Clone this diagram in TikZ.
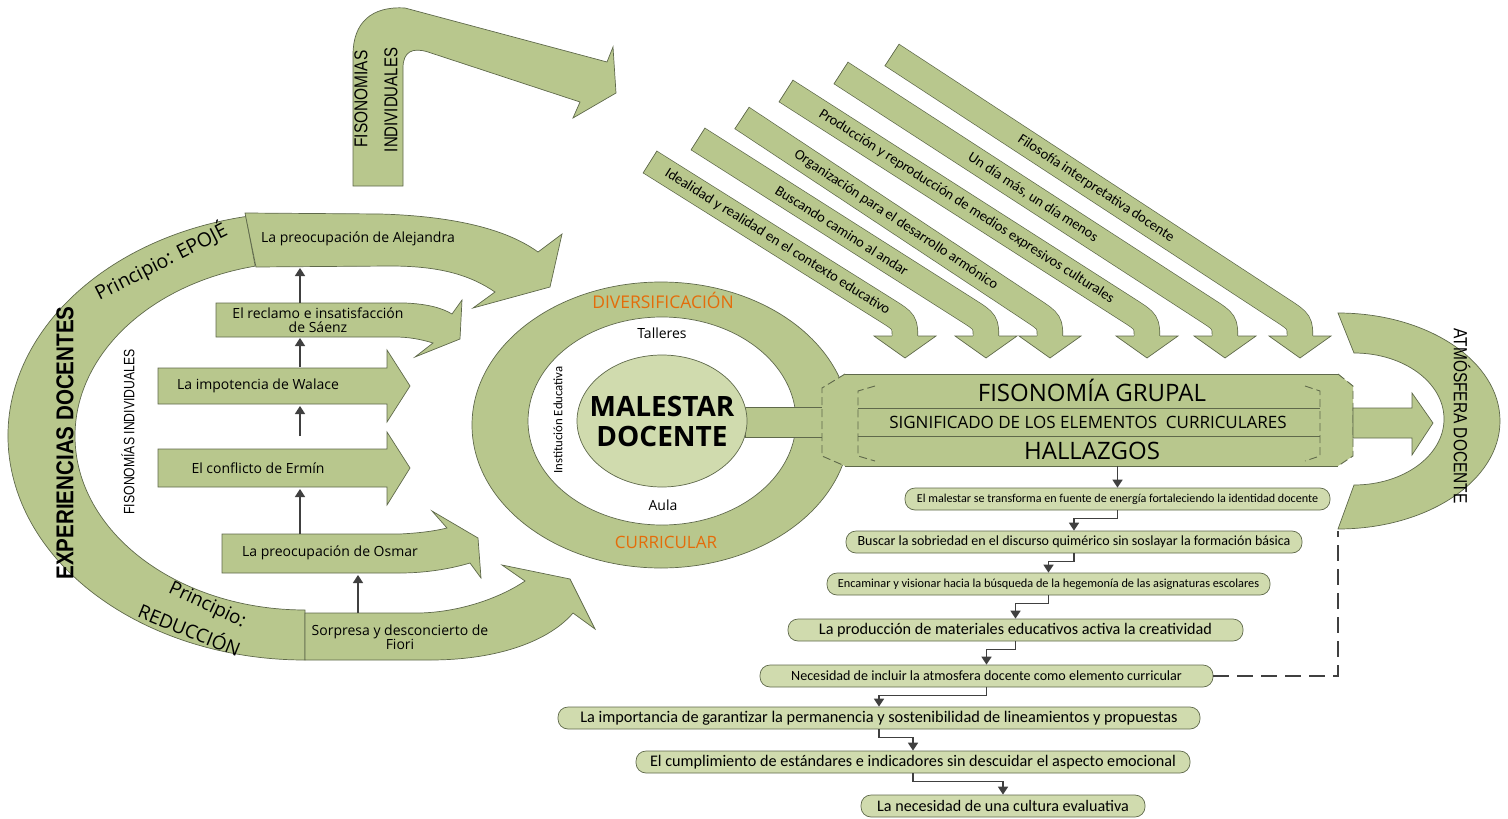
\documentclass[tikz,border=0pt]{standalone}
\usepackage{fontspec}
\setmainfont{Open Sans}
\newfontfamily\calfont{Carlito}
\newfontfamily\arifont{Liberation Sans}
\usetikzlibrary{arrows.meta,calc}
\definecolor{grn}{RGB}{184,199,141}
\definecolor{grnl}{RGB}{208,219,174}
\definecolor{bordc}{RGB}{95,105,75}
\definecolor{darkc}{RGB}{64,64,64}
\definecolor{orng}{RGB}{228,108,10}
\tikzset{
 shp/.style={fill=grn, draw=bordc, line width=0.7pt},
 bt/.style={font=\fontsize{14}{14.5}\selectfont, align=center, inner sep=0pt},
 conn/.style={draw=darkc, line width=1.6pt, -{Triangle[length=8pt,width=10pt]}},
 lbox/.style={draw=bordc, fill=grnl, line width=0.7pt, rounded corners=10pt, minimum height=22pt, inner sep=0pt},
 dtext/.style={font=\calfont\fontsize{14.5}{14.5}\selectfont, sloped, inner sep=0pt},
 dsh/.style={draw=bordc, line width=0.9pt, dash pattern=on 8pt off 4pt},
 lgap/.style={draw=darkc, line width=1.6pt, dash pattern=on 16pt off 8pt},
}
\newcommand\diagarr[4]{%
 \coordinate (#1s) at (#2);
 \coordinate (#1c) at (#3,322);
 \coordinate (#1q) at (#3,340);
 \draw[bordc, line width=0.7pt, double=grn, double distance=25pt] (#1s) -- ($(#1c)!22pt!(#1s)$) .. controls (#1c) .. (#1q);
 \draw[bordc, line width=0.7pt] ($(#1s)!13.2pt!90:(#1c)$) -- ($(#1s)!13.2pt!-90:(#1c)$);
 \fill[grn] (#3-31,336) -- (#3,358) -- (#3+31,336) -- cycle;
 \draw[bordc, line width=0.7pt] (#3-13.2,336) -- (#3-31,336) -- (#3,358) -- (#3+31,336) -- (#3+13.2,336);
 \path (#1s) -- (#1c) node[dtext, midway] (#1txt) {#4};
}
\begin{document}
\begin{tikzpicture}[x=1pt,y=-1pt]
\useasboundingbox (0,0) rectangle (1508,819);

% ---------- left big arc ----------
\path[shp] (305,436) ++(-101.5:297 and 224) arc[start angle=-101.5,end angle=-270,x radius=297,y radius=224]
  -- (305,610) arc[start angle=90,end angle=257.5,x radius=230,y radius=174] -- cycle;
\node[rotate=27, font=\fontsize{19.5}{19.5}\selectfont, inner sep=0pt] (epo) at (161,262) {Principio: EPOJÉ};
\node[rotate=-25, font=\fontsize{19}{19}\selectfont, inner sep=0pt] (pr2) at (207,606) {Principio:};
\node[rotate=-22, font=\fontsize{19}{19}\selectfont, inner sep=0pt] (red) at (190,629) {REDUCCIÓN};
\node[rotate=90, inner sep=0pt] (exp) at (65,443) {\resizebox{273pt}{17pt}{\arifont\bfseries EXPERIENCIAS DOCENTES}};
\node[rotate=90, inner sep=0pt] (fis1) at (128,432) {\resizebox{165pt}{13pt}{\arifont FISONOMÍAS INDIVIDUALES}};

% ---------- left arrows ----------
\path[shp] (245,213) -- (380,214) .. controls (450,216) and (505,228) .. (538,252) -- (562,234) -- (550,287) -- (473,308) -- (495,292) .. controls (470,275) and (440,266) .. (390,266) -- (256,267) -- cycle;
\node[bt] (ale) at (358,239) {La preocupación de Alejandra};
\path[shp] (216,303) -- (405,303) .. controls (428,304) and (442,308) .. (452,314) -- (462,300) -- (460,339) -- (415,357) -- (433,343) .. controls (420,339) and (408,337) .. (395,337) -- (216,337) -- cycle;
\node[bt] (sae) at (318,320) {El reclamo e insatisfacción\\de Sáenz};
\path[shp] (158,368) -- (387,368) -- (387,350) -- (410,386) -- (387,422) -- (387,404) -- (158,404) -- cycle;
\node[bt] (wal) at (258,386) {La impotencia de Walace};
\path[shp] (158,449) -- (387,449) -- (387,432) -- (410,468) -- (387,505) -- (387,487) -- (158,487) -- cycle;
\node[bt] (erm) at (258,468) {El conflicto de Ermín};
\path[shp] (222,534) -- (400,534) .. controls (420,533) and (435,531) .. (447,528) -- (432,511) -- (478,538) -- (481,578) -- (470,563) .. controls (450,569) and (425,573) .. (400,573) -- (222,573) -- cycle;
\node[bt] (osm) at (330,553) {La preocupación de Osmar};
\path[shp] (305,613) -- (420,613) .. controls (460,612) and (500,598) .. (525,581) -- (502,565) -- (570,579) -- (595,629) -- (573,613) .. controls (550,640) and (500,660) .. (430,660) -- (305,660) -- cycle;
\node[bt] (fio) at (400,637) {Sorpresa y desconcierto de\\Fiori};

\coordinate (fio-t) at (358,613); \coordinate (osm-b) at (358,575);
\coordinate (osm-t) at (300,534); \coordinate (erm-b) at (300,489);
\coordinate (erm-t) at (300,436); \coordinate (wal-b) at (300,406);
\coordinate (wal-t) at (300,367); \coordinate (sae-b) at (300,338);
\coordinate (sae-t) at (300,303); \coordinate (ale-b) at (300,268);
\draw[conn] (fio-t) -- (osm-b);
\draw[conn] (osm-t) -- (erm-b);
\draw[conn] (erm-t) -- (wal-b);
\draw[conn] (wal-t) -- (sae-b);
\draw[conn] (sae-t) -- (ale-b);

% ---------- top arrow ----------
\path[shp] (353,186) -- (353,55) .. controls (353,22) and (372,6) .. (405,8) -- (607,62) -- (613,47) -- (616,93) -- (573,118) -- (580,102) -- (428,52) .. controls (412,47) and (403,52) .. (403,68) -- (403,186) -- cycle;
\node[rotate=90, inner sep=0pt] (fi1) at (361,99) {\resizebox{97pt}{13pt}{\arifont FISONOMIAS}};
\node[rotate=90, inner sep=0pt] (fi2) at (391,100) {\resizebox{104pt}{13pt}{\arifont INDIVIDUALES}};

% ---------- ring ----------
\path[shp] (661,425) ellipse[x radius=189, y radius=143];
\path[fill=white, draw=bordc, line width=0.7pt] (662,421) ellipse[x radius=134, y radius=104];
\path[shp] (745,407) rectangle (822,437);
\path[fill=grnl, draw=bordc, line width=0.7pt] (662,421) ellipse[x radius=85, y radius=66];
\node[font=\fontsize{17.5}{18}\selectfont, text=orng] (div) at (663,300) {DIVERSIFICACIÓN};
\node[font=\fontsize{17}{18}\selectfont, text=orng] (cur) at (666,542) {CURRICULAR};
\node[font=\fontsize{14}{14}\selectfont] (tal) at (662,333) {Talleres};
\node[font=\fontsize{14}{14}\selectfont] (aul) at (663,505) {Aula};
\node[rotate=90, font=\calfont\fontsize{12.8}{13}\selectfont] (ins) at (558,420) {Institución Educativa};
\node[font=\bfseries\fontsize{28}{30}\selectfont, align=center] (mal) at (662,421) {MALESTAR\\DOCENTE};

% ---------- fisonomia grupal ----------
\fill[grn] (845,374) -- (1338,374) -- (1353,386) -- (1353,456) -- (1338,466) -- (845,466) -- (822,456) -- (822,388) -- cycle;
\draw[bordc, line width=0.7pt] (845,374) -- (1338,374) (845,466) -- (1338,466);
\draw[dsh] (845,374) -- (822,388) -- (822,456) -- (845,466);
\draw[dsh] (875,386) -- (858,391) -- (858,456) -- (875,461);
\draw[dsh] (1305,386) -- (1320,391) -- (1320,456) -- (1305,461);
\draw[dsh] (1338,374) -- (1353,386) -- (1353,456) -- (1338,466);
\draw[bordc, line width=0.7pt] (858,408) -- (1320,408) (858,436) -- (1320,436);
\node[font=\fontsize{24}{24}\selectfont] (fg) at (1092,390) {FISONOMÍA GRUPAL};
\node[font=\fontsize{17}{17}\selectfont] (sig) at (1088,422) {SIGNIFICADO DE LOS ELEMENTOS\ \ CURRICULARES};
\node[font=\fontsize{24}{24}\selectfont] (hal) at (1092,451) {HALLAZGOS};

% ---------- atmosfera ----------
\path[shp] (1353,408) -- (1412,408) -- (1412,393) -- (1433,423) -- (1412,455) -- (1412,438) -- (1353,438) -- cycle;
\path[shp] (1338,313) arc[start angle=-90,end angle=90,x radius=162,y radius=108] -- (1354,485) arc[start angle=90,end angle=-90,x radius=90,y radius=66] -- cycle;
\node[rotate=-90, inner sep=0pt] (atm) at (1462,416) {\resizebox{175pt}{16.5pt}{\arifont ATMÓSFERA DOCENTE}};

% ---------- diagonal arrows ----------
\diagarr{da}{650,162}{905}{Idealidad y realidad en el contexto educativo}
\diagarr{db}{698,139}{986}{Buscando camino al andar}
\diagarr{dc}{742,118}{1050}{Organización para el desarrollo armónico}
\diagarr{dd}{786,91}{1147}{Producción y reproducción de medios expresivos culturales}
\diagarr{de}{841,73}{1225}{Un día más, un día menos}
\diagarr{df}{892,55}{1300}{Filosofía interpretativa docente}

% ---------- list ----------
\node[lbox, minimum width=425pt, font=\calfont\fontsize{12.1}{12}\selectfont] (b1) at (1117.5,499) {El malestar se transforma en fuente de energía fortaleciendo la identidad docente};
\node[lbox, minimum width=456pt, font=\calfont\fontsize{14}{14}\selectfont] (b2) at (1074,542) {Buscar la sobriedad en el discurso quimérico sin soslayar la formación básica};
\node[lbox, minimum width=443pt, font=\calfont\fontsize{12.3}{12}\selectfont] (b3) at (1048.5,584) {Encaminar y visionar hacia la búsqueda de la hegemonía de las asignaturas escolares};
\node[lbox, minimum width=455pt, font=\calfont\fontsize{16.2}{16}\selectfont] (b4) at (1015.5,630) {La producción de materiales educativos activa la creatividad};
\node[lbox, minimum width=453pt, font=\calfont\fontsize{14.1}{14}\selectfont] (b5) at (986.5,676) {Necesidad de incluir la atmosfera docente como elemento curricular};
\node[lbox, minimum width=642pt, font=\calfont\fontsize{16.3}{16}\selectfont] (b6) at (879,718) {La importancia de garantizar la permanencia y sostenibilidad de lineamientos y propuestas};
\node[lbox, minimum width=554pt, font=\calfont\fontsize{16.2}{16}\selectfont] (b7) at (913,762) {El cumplimiento de estándares e indicadores sin descuidar el aspecto emocional};
\node[lbox, minimum width=284pt, font=\calfont\fontsize{16.1}{16}\selectfont] (b8) at (1003,806) {La necesidad de una cultura evaluativa};

\coordinate (grp-b) at (1117.5,466);
\draw[conn] (grp-b) -- (b1.north);
\draw[conn] (b1.south) -- ++(0,8) -| (b2.north);
\draw[conn] (b2.south) -- ++(0,8) -| (b3.north);
\draw[conn] (b3.south) -- ++(0,8) -| (b4.north);
\draw[conn] (b4.south) -- ++(0,8) -| (b5.north);
\draw[conn] (b5.south) -- ++(0,8) -| (b6.north);
\draw[conn] (b6.south) -- ++(0,8) -| (b7.north);
\draw[conn] (b7.south) -- ++(0,8) -| (b8.north);
\coordinate (atm-b) at (1338,531);
\draw[lgap] (b5.east) -| (atm-b);
\end{tikzpicture}
\end{document}
